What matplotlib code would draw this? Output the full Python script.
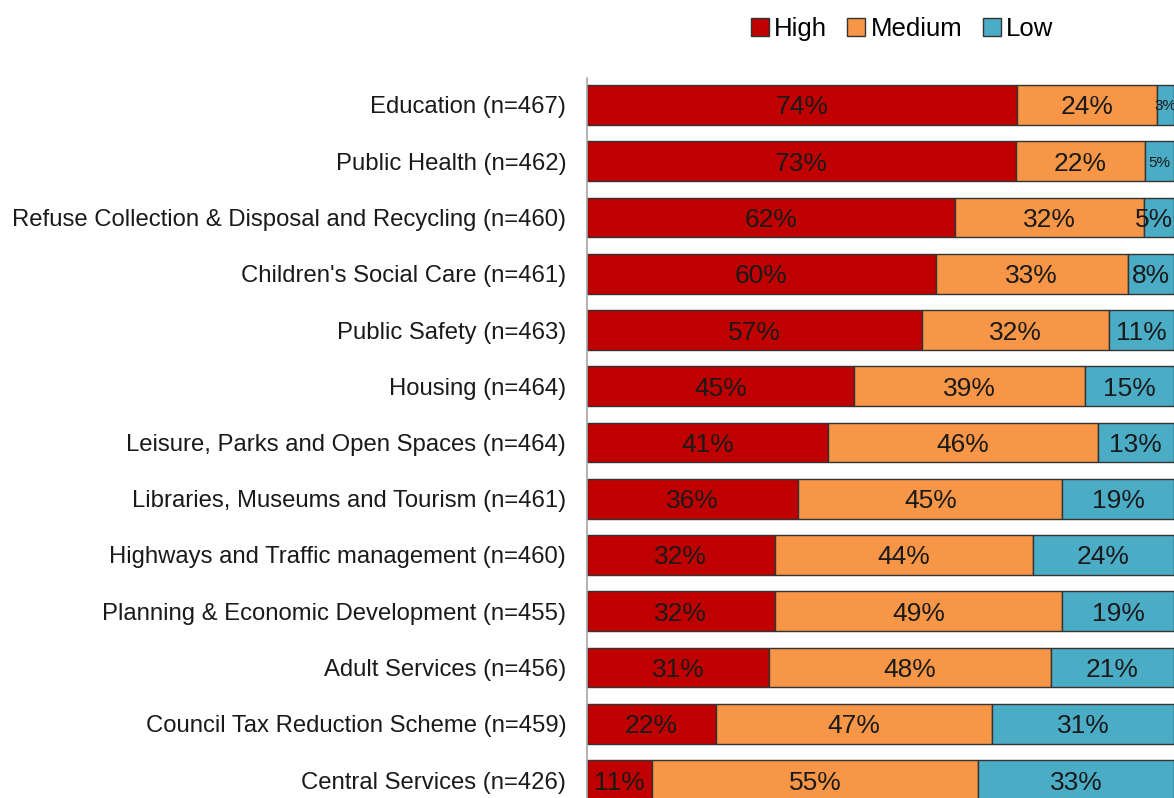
import matplotlib.pyplot as plt
import numpy as np

plt.rcParams['font.family'] = ['Liberation Sans', 'DejaVu Sans']

# ============================================================================#
#                                   DATA                                      #
# ============================================================================#
categories = [
    "Education (n=467)",
    "Public Health (n=462)",
    "Refuse Collection & Disposal and Recycling (n=460)",
    "Children's Social Care (n=461)",
    "Public Safety (n=463)",
    "Housing (n=464)",
    "Leisure, Parks and Open Spaces (n=464)",
    "Libraries, Museums and Tourism (n=461)",
    "Highways and Traffic management (n=460)",
    "Planning & Economic Development (n=455)",
    "Adult Services (n=456)",
    "Council Tax Reduction Scheme (n=459)",
    "Central Services (n=426)",
]
high = [74, 73, 62, 60, 57, 45, 41, 36, 32, 32, 31, 22, 11]
medium = [24, 22, 32, 33, 32, 39, 46, 45, 44, 49, 48, 47, 55]
low = [3, 5, 5, 8, 11, 15, 13, 19, 24, 19, 21, 31, 33]

series_names = ["High", "Medium", "Low"]
colors = ["#C00000", "#F79646", "#4BACC6"]

# ============================================================================#
#                                   PLOT                                      #
# ============================================================================#
fig = plt.figure(figsize=(11.74, 7.98), dpi=100)
ax = fig.add_axes([587 / 1174, 0.0, 587 / 1174, 1 - 78 / 798])

values = np.array([high, medium, low], dtype=float)
# bars are drawn as share of each row total so every row fills the axis
widths = values / values.sum(axis=0) * 100
y = np.arange(len(categories))

left = np.zeros(len(categories))
for k in range(3):
    bars = ax.barh(y, widths[k], left=left, height=0.71, color=colors[k],
                   edgecolor="#333333", linewidth=1.0, label=series_names[k])
    for i, b in enumerate(bars):
        txt = f"{int(values[k, i])}%"
        fs = 19
        xpos = left[i] + widths[k, i] / 2
        ha = "center"
        # tiny segments got a smaller label in the original
        if k == 2 and i in (0, 1):
            fs = 11
        elif k == 2 and widths[k, i] < 7:
            # label wider than its segment: keep it inside the figure
            xpos, ha = 99.9, "right"
        ax.text(xpos, y[i], txt, ha=ha, va="center_baseline",
                fontsize=fs, color="#1a1a1a")
    left += widths[k]

ax.set_xlim(0, 100)
ax.set_ylim(12.32, -0.48)
ax.set_yticks(y)
ax.set_yticklabels(categories, fontsize=17.2, color="#1a1a1a")
ax.tick_params(axis="y", length=0, pad=15)
ax.set_xticks([])
for side in ["top", "right", "bottom"]:
    ax.spines[side].set_visible(False)
ax.spines["left"].set_color("#A6A6A6")
ax.spines["left"].set_linewidth(1.2)

fig.legend(loc="center", bbox_to_anchor=(902 / 1174, 1 - 29 / 798), ncol=3,
           frameon=False, fontsize=18.5, handlelength=0.7, handleheight=0.7,
           handletextpad=0.2, columnspacing=0.8, borderaxespad=0)

fig.savefig("out.png", dpi=100)
